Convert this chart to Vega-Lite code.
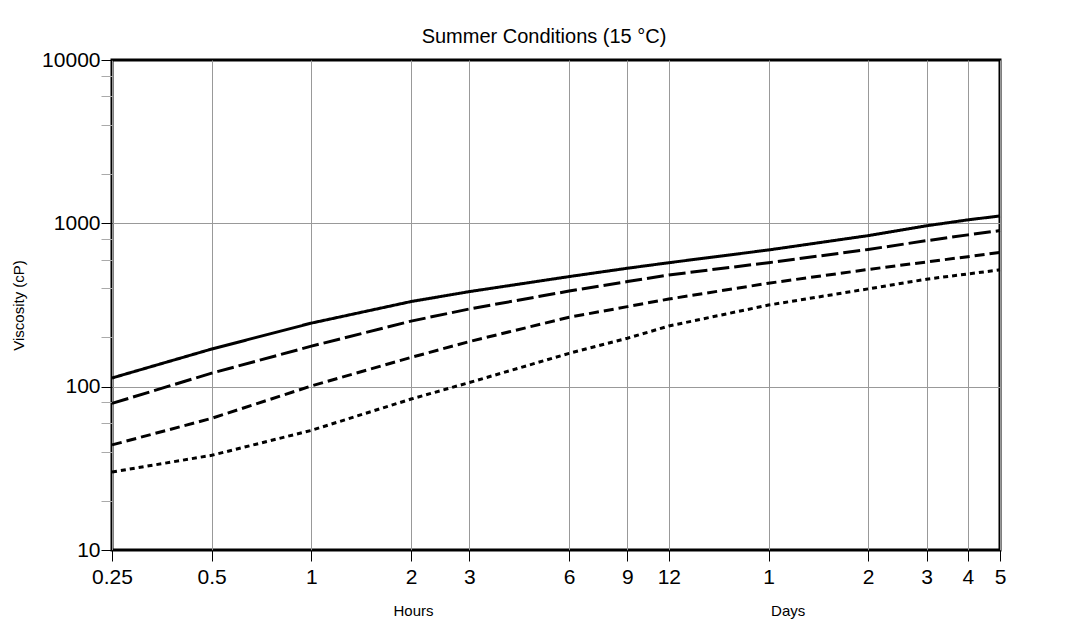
{
  "$schema": "https://vega.github.io/schema/vega-lite/v6.json",
  "autosize": {"type": "none"},
  "width": 888,
  "height": 490,
  "padding": {"left": 112, "top": 60, "right": 87, "bottom": 87},
  "background": "white",
  "config": {"font": "Liberation Sans", "view": {"stroke": "black", "strokeWidth": 3}},
  "title": {"text": "Summer Conditions (15 °C)", "fontSize": 20, "fontWeight": "normal", "font": "Liberation Sans", "color": "black", "anchor": "middle", "dx": -12, "dy": 20, "offset": 6, "baseline": "alphabetic"},
  "data": {"values": [
    {"series": "A", "hours": 0.25, "viscosity": 113},
    {"series": "A", "hours": 0.5, "viscosity": 170},
    {"series": "A", "hours": 1, "viscosity": 245},
    {"series": "A", "hours": 2, "viscosity": 332},
    {"series": "A", "hours": 3, "viscosity": 382},
    {"series": "A", "hours": 6, "viscosity": 472},
    {"series": "A", "hours": 9, "viscosity": 531},
    {"series": "A", "hours": 12, "viscosity": 574},
    {"series": "A", "hours": 24, "viscosity": 687},
    {"series": "A", "hours": 48, "viscosity": 841},
    {"series": "A", "hours": 72, "viscosity": 966},
    {"series": "A", "hours": 96, "viscosity": 1050},
    {"series": "A", "hours": 120, "viscosity": 1110},
    {"series": "B", "hours": 0.25, "viscosity": 79},
    {"series": "B", "hours": 0.5, "viscosity": 121},
    {"series": "B", "hours": 1, "viscosity": 177},
    {"series": "B", "hours": 2, "viscosity": 252},
    {"series": "B", "hours": 3, "viscosity": 299},
    {"series": "B", "hours": 6, "viscosity": 385},
    {"series": "B", "hours": 9, "viscosity": 440},
    {"series": "B", "hours": 12, "viscosity": 483},
    {"series": "B", "hours": 24, "viscosity": 574},
    {"series": "B", "hours": 48, "viscosity": 692},
    {"series": "B", "hours": 72, "viscosity": 783},
    {"series": "B", "hours": 96, "viscosity": 850},
    {"series": "B", "hours": 120, "viscosity": 903},
    {"series": "C", "hours": 0.25, "viscosity": 44},
    {"series": "C", "hours": 0.5, "viscosity": 64},
    {"series": "C", "hours": 1, "viscosity": 101},
    {"series": "C", "hours": 2, "viscosity": 151},
    {"series": "C", "hours": 3, "viscosity": 189},
    {"series": "C", "hours": 6, "viscosity": 266},
    {"series": "C", "hours": 9, "viscosity": 309},
    {"series": "C", "hours": 12, "viscosity": 344},
    {"series": "C", "hours": 24, "viscosity": 430},
    {"series": "C", "hours": 48, "viscosity": 522},
    {"series": "C", "hours": 72, "viscosity": 580},
    {"series": "C", "hours": 96, "viscosity": 625},
    {"series": "C", "hours": 120, "viscosity": 663},
    {"series": "D", "hours": 0.25, "viscosity": 30},
    {"series": "D", "hours": 0.5, "viscosity": 38},
    {"series": "D", "hours": 1, "viscosity": 54},
    {"series": "D", "hours": 2, "viscosity": 84},
    {"series": "D", "hours": 3, "viscosity": 106},
    {"series": "D", "hours": 6, "viscosity": 160},
    {"series": "D", "hours": 9, "viscosity": 198},
    {"series": "D", "hours": 12, "viscosity": 235},
    {"series": "D", "hours": 24, "viscosity": 316},
    {"series": "D", "hours": 48, "viscosity": 397},
    {"series": "D", "hours": 72, "viscosity": 455},
    {"series": "D", "hours": 96, "viscosity": 490},
    {"series": "D", "hours": 120, "viscosity": 519}
  ]},
  "mark": {"type": "line", "color": "black", "strokeWidth": 3, "strokeCap": "butt"},
  "encoding": {
    "x": {
      "field": "hours", "type": "quantitative",
      "scale": {"type": "log", "domain": [0.25, 120], "nice": false},
      "axis": {
        "title": "Hours\u00a0\u00a0\u00a0\u00a0\u00a0\u00a0\u00a0\u00a0\u00a0\u00a0\u00a0\u00a0\u00a0\u00a0\u00a0\u00a0\u00a0\u00a0\u00a0\u00a0\u00a0\u00a0\u00a0\u00a0\u00a0\u00a0\u00a0\u00a0\u00a0\u00a0\u00a0\u00a0\u00a0\u00a0\u00a0\u00a0\u00a0\u00a0\u00a0\u00a0\u00a0\u00a0\u00a0\u00a0\u00a0\u00a0\u00a0\u00a0\u00a0\u00a0\u00a0\u00a0\u00a0\u00a0\u00a0\u00a0\u00a0\u00a0\u00a0\u00a0\u00a0\u00a0\u00a0\u00a0\u00a0\u00a0\u00a0\u00a0\u00a0\u00a0\u00a0\u00a0\u00a0\u00a0\u00a0\u00a0\u00a0\u00a0\u00a0\u00a0\u00a0Days",
        "values": [0.25, 0.5, 1, 2, 3, 6, 9, 12, 24, 48, 72, 96, 120],
        "labelExpr": "datum.value >= 24 ? '' + (datum.value / 24) : '' + datum.value",
        "domain": false,
        "grid": true, "gridColor": "#999", "gridWidth": 1,
        "tickColor": "black", "tickSize": 11, "tickWidth": 1,
        "labelFontSize": 21, "labelColor": "black", "labelPadding": 5, "labelFlush": false, "labelOverlap": false,
        "titleFontSize": 15, "titleFontWeight": "normal", "titleColor": "black",
        "titleAlign": "left", "titleX": 281, "titleY": 65, "titleBaseline": "alphabetic"
      }
    },
    "y": {
      "field": "viscosity", "type": "quantitative",
      "scale": {"type": "log", "domain": [10, 10000], "nice": false},
      "axis": {
        "title": "Viscosity (cP)",
        "values": [10, 20, 40, 60, 80, 100, 200, 400, 600, 800, 1000, 2000, 4000, 6000, 8000, 10000],
        "labelExpr": "indexof([10, 100, 1000, 10000], datum.value) >= 0 ? '' + datum.value : ''",
        "domain": false,
        "grid": true, "gridColor": "#999", "gridWidth": 1,
        "gridOpacity": {"condition": {"test": "indexof([100, 1000], datum.value) >= 0", "value": 1}, "value": 0},
        "tickColor": {"condition": {"test": "indexof([10, 100, 1000, 10000], datum.value) >= 0", "value": "black"}, "value": "#aaa"},
        "tickSize": 11, "tickWidth": 1,
        "labelFontSize": 21, "labelColor": "black", "labelPadding": 1, "labelFlush": false, "labelOverlap": false,
        "titleFontSize": 15, "titleFontWeight": "normal", "titleColor": "black", "titlePadding": 15
      }
    },
    "strokeDash": {
      "field": "series", "type": "nominal",
      "scale": {"domain": ["A", "B", "C", "D"], "range": [[1, 0], [17, 5], [10, 5], [5, 4]]},
      "legend": null
    }
  }
}
